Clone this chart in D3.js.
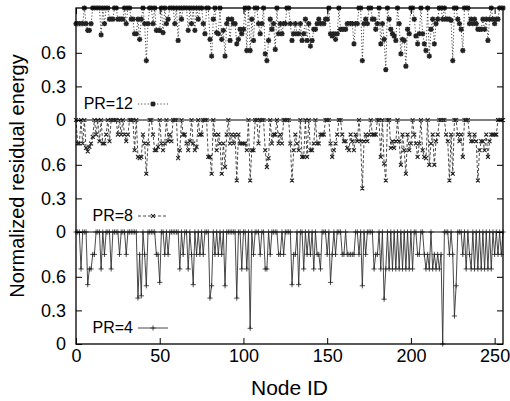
<!DOCTYPE html>
<html>
<head>
<meta charset="utf-8">
<script src="https://cdn.jsdelivr.net/npm/d3@7"></script>
<style>
body { margin: 0; background: #fff; }
svg { display: block; font-family: "Liberation Sans", Arial, sans-serif; }
</style>
</head>
<body>
<script>
// normalized residual energy per node (node 0..255)
var pr12 = [
  .86,.86,.86,.86,.86,1,.86,.8,.8,.86,1,1,1,1,1,.76,
  1,.86,1,1,.9,.9,.9,1,1,.9,.9,.9,.9,1,.86,1,
  1,.9,.9,.77,.77,.9,.72,.9,1,.86,.53,.86,1,1,.86,1,
  .8,.8,.8,1,.78,1,.86,.9,1,1,1,.86,1,.71,1,.9,
  1,1,1,.8,1,.86,1,.8,1,.9,1,1,.86,.77,1,1,
  .72,.57,.9,1,.78,.77,1,.72,.8,.57,.86,.9,.71,.9,.86,.86,
  .68,.72,.81,.77,.81,1,.62,1,.62,.9,.71,1,1,.86,.77,.86,
  1,.59,.53,.71,.9,.81,.86,.63,1,.77,.86,.77,.86,.86,1,1,
  .86,.71,.77,.86,.77,.77,.86,.71,.77,.9,.71,.86,.66,.71,.81,.81,
  .86,.9,.86,.86,.86,.9,.9,1,.77,.75,.77,.72,.77,1,.81,.81,
  .81,.81,.86,.86,.86,.86,.68,.86,.86,1,1,.53,.86,.9,.86,1,
  1,.9,.9,.81,.86,1,.68,.86,.72,.45,1,.9,.81,.77,.75,.71,
  1,.86,.59,.72,.71,.48,.81,.77,1,1,.9,.75,.68,.77,1,.77,
  .68,.62,1,.57,.81,.9,.68,.86,.9,1,1,.9,1,.9,.9,.9,
  .89,.53,1,1,.9,.86,.81,.62,1,1,1,.86,.9,.86,.9,.86,
  .81,.81,.81,.9,.81,.9,.71,.9,1,.9,.86,.9,.9,1,1,1
];
var pr8 = [
  1,.79,.79,1,.79,1,.75,.72,.76,.79,.85,1,.87,1,.81,1,
  .79,.79,.87,1,.81,1,1,1,1,.87,1,.87,1,.87,.81,.87,
  1,1,1,.73,1,.67,.66,.67,.87,.79,.52,.79,1,1,.87,.73,
  .73,.76,1,.79,.73,.79,1,.81,.87,.81,1,1,1,.66,.73,1,
  .87,.87,.79,.73,.81,1,.79,.73,.76,1,.87,.87,1,1,1,.67,
  .67,.52,1,.87,.73,.87,.79,.52,.79,.58,.87,1,.79,.87,.79,.87,
  .46,.87,.79,.79,.79,.79,.73,1,.46,.73,.73,1,1,.79,1,1,
  1,.73,.58,.66,1,.79,.87,.87,1,.79,.87,.79,1,1,1,1,
  .79,.46,.73,.87,.79,.73,1,.67,.67,1,.67,1,.73,.73,.79,1,
  .79,.79,.87,.87,.87,1,1,1,.79,.67,.73,.79,.87,1,1,.87,
  .81,.81,.75,.73,.87,.81,.73,.87,.81,1,.81,.39,.81,.87,.81,.87,
  1,.87,.87,.87,1,1,.67,1,.61,.46,1,1,.75,.81,.75,.81,
  1,.81,.6,.87,.73,.52,.87,.73,.79,1,.87,.79,.67,.79,1,.73,
  .67,.66,1,.6,.79,.87,.6,.81,.87,1,1,1,1,.87,.81,.46,
  .87,.52,1,1,.87,.81,.87,.67,1,1,1,.87,.81,.81,.87,.81,
  .46,.73,.81,.81,.73,.87,.67,.81,.87,.87,.87,.87,1,1,1,1
];
var pr4 = [
  1,1,1,.67,1,1,1,.53,.67,.67,.8,.8,1,1,1,.67,
  1,.8,1,1,1,.67,1,1,1,1,.8,1,1,1,.8,1,
  1,1,1,1,1,.41,.8,.43,1,.8,.52,1,1,1,1,1,
  .8,.8,.55,1,1,.8,1,.8,1,1,1,1,1,1,.67,1,
  .8,1,1,.67,1,.8,.53,1,.8,1,.8,1,.8,1,1,1,
  .41,.52,1,.8,1,.8,1,.8,1,.52,1,1,1,1,1,1,
  .41,1,1,.67,1,1,.67,1,.14,1,.8,1,1,1,.8,1,
  1,.67,.67,1,.8,1,1,1,1,.8,.8,1,.8,1,1,1,
  1,.53,.8,.8,1,.53,1,1,.67,1,.8,1,.8,1,.67,1,
  .8,.8,.67,1,1,1,.8,1,.55,.8,1,.8,1,1,1,.8,
  .8,1,.8,.8,.8,.8,.8,1,1,.8,1,.52,1,.8,1,1,
  1,1,.67,.8,.8,1,.67,1,.4,.67,1,.67,1,.67,1,.67,
  1,.67,1,.67,1,.67,1,.67,1,.67,1,1,.8,.8,1,1,
  .8,.67,.8,.67,1,.67,.8,.67,.8,.67,.8,0,1,1,1,.8,
  1,.8,.25,.52,1,1,1,.8,1,.67,1,.8,.67,1,.67,1,
  .67,1,.67,1,.67,1,.67,1,.67,1,.8,1,.8,1,.8,1
];
var seriesNames = ["PR=12", "PR=8", "PR=4"];
var xTicks = [0, 50, 100, 150, 200, 250];
var yTicks = [0, 0.3, 0.6];

var width = 510, height = 401;
var mLeft = 76, mRight = 503, mTop = 8, mBottom = 344;

var svg = d3.select("body").append("svg")
    .attr("width", width)
    .attr("height", height);

var x = d3.scaleLinear().domain([0, 255]).range([mLeft, mRight]);
// three stacked panels, each spanning one unit
var y = d3.scaleLinear().domain([0, 3]).range([mBottom, mTop]);

// panel setup: offset, line dash, marker kind, legend line height
var panels = [
  { name: seriesNames[0], values: pr12, offset: 2, dash: "1.2,2", mark: "star", legendY: 104, mw: 1.4 },
  { name: seriesNames[1], values: pr8, offset: 1, dash: "3,2", mark: "cross", legendY: 216, mw: 1.1 },
  { name: seriesNames[2], values: pr4, offset: 0, dash: null, mark: "plus", legendY: 328, mw: 0.8 }
];

function markPath(kind, cx, cy) {
  var s = 2.6, d = s * 0.75, p = "";
  if (kind == "plus" || kind == "star")
    p += "M" + (cx - s) + "," + cy + "h" + (2 * s) + "M" + cx + "," + (cy - s) + "v" + (2 * s);
  if (kind == "cross" || kind == "star")
    p += "M" + (cx - d) + "," + (cy - d) + "l" + (2 * d) + "," + (2 * d) +
         "M" + (cx - d) + "," + (cy + d) + "l" + (2 * d) + "," + (-2 * d);
  return p;
}

var plot = svg.append("g");

// panel separators
[1, 2].forEach(function(v) {
  plot.append("line")
    .attr("x1", mLeft).attr("x2", mRight)
    .attr("y1", y(v)).attr("y2", y(v))
    .attr("stroke", "#000").attr("stroke-width", 1.2);
});

panels.forEach(function(p) {
  var line = d3.line()
    .x(function(d, i) { return x(i); })
    .y(function(d) { return y(d + p.offset); });
  plot.append("path")
    .attr("d", line(p.values))
    .attr("fill", "none")
    .attr("stroke", "#333")
    .attr("stroke-width", 0.9)
    .attr("stroke-dasharray", p.dash);
  var marks = p.values.map(function(d, i) {
    return markPath(p.mark, x(i), y(d + p.offset));
  }).join("");
  plot.append("path")
    .attr("d", marks)
    .attr("fill", "none")
    .attr("stroke", "#222")
    .attr("stroke-width", p.mw);

  // key
  plot.append("text")
    .attr("x", 133).attr("y", p.legendY + 5)
    .attr("text-anchor", "end")
    .attr("font-size", 16)
    .text(p.name);
  plot.append("line")
    .attr("x1", 138).attr("x2", 168)
    .attr("y1", p.legendY).attr("y2", p.legendY)
    .attr("stroke", "#333").attr("stroke-width", 0.9)
    .attr("stroke-dasharray", p.dash);
  plot.append("path")
    .attr("d", markPath(p.mark, 153, p.legendY))
    .attr("fill", "none").attr("stroke", "#222")
    .attr("stroke-width", p.mw);
});

// axes
var yAll = [];
panels.forEach(function(p) {
  yTicks.forEach(function(t) { yAll.push(t + p.offset); });
});

var xAxis = d3.axisBottom(x).tickValues(xTicks).tickSize(-6).tickPadding(5);
var xAxisTop = d3.axisTop(x).tickValues(xTicks).tickSize(-6).tickFormat("");
var yAxis = d3.axisLeft(y).tickValues(yAll).tickSize(-6).tickPadding(10)
    .tickFormat(function(d) { return String(+(d % 1).toFixed(1)); });
var yAxisRight = d3.axisRight(y).tickValues(yAll).tickSize(-6).tickFormat("");

function styleAxis(g) {
  g.select(".domain").remove();
  g.selectAll(".tick line").attr("stroke", "#000").attr("stroke-width", 1);
  g.selectAll("text").attr("font-size", 18).attr("fill", "#000")
    .attr("font-family", "'Liberation Sans', Arial, sans-serif");
}

svg.append("g").attr("transform", "translate(0," + mBottom + ")").call(xAxis).call(styleAxis);
svg.append("g").attr("transform", "translate(0," + mTop + ")").call(xAxisTop).call(styleAxis);
svg.append("g").attr("transform", "translate(" + mLeft + ",0)").call(yAxis).call(styleAxis);
svg.append("g").attr("transform", "translate(" + mRight + ",0)").call(yAxisRight).call(styleAxis);

svg.append("rect")
  .attr("x", mLeft).attr("y", mTop)
  .attr("width", mRight - mLeft).attr("height", mBottom - mTop)
  .attr("fill", "none").attr("stroke", "#000").attr("stroke-width", 1.3);

svg.append("text")
  .attr("x", (mLeft + mRight) / 2).attr("y", 395)
  .attr("text-anchor", "middle")
  .attr("font-size", 21)
  .text("Node ID");

svg.append("text")
  .attr("transform", "translate(24," + ((mTop + mBottom) / 2) + ") rotate(-90)")
  .attr("text-anchor", "middle")
  .attr("font-size", 20)
  .text("Normalized residual energy");
</script>
</body>
</html>
